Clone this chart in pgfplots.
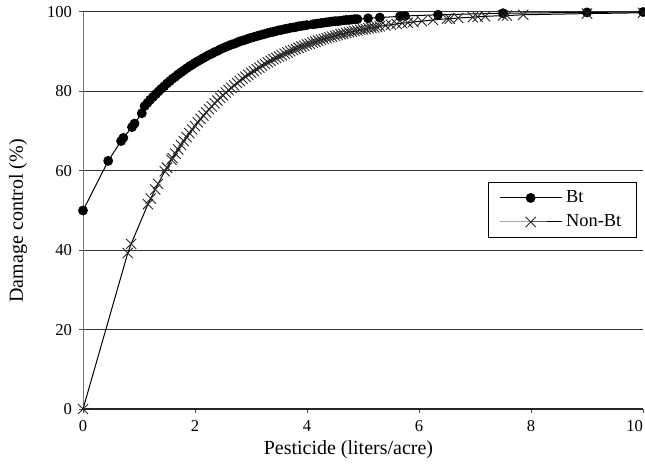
\documentclass[border=0pt]{standalone}
\usepackage{fontspec}
\setmainfont{Liberation Serif}
\usepackage{pgfplots}
\pgfplotsset{compat=1.18}

\pgfplotstableread{
x y
0 50.0
0.45 62.5
0.68 67.5
0.72 68.3
0.875 71.0
0.92 71.9
1.05 74.5
1.10 76.3
1.15 77.1
1.20 77.9
1.25 78.6
1.30 79.3
1.35 80.0
1.40 80.7
1.45 81.3
1.50 82.0
1.55 82.6
1.60 83.2
1.65 83.7
1.70 84.3
1.75 84.8
1.80 85.3
1.85 85.8
1.90 86.3
1.95 86.7
2.00 87.2
2.05 87.6
2.10 88.0
2.15 88.4
2.20 88.8
2.25 89.2
2.30 89.5
2.35 89.9
2.40 90.2
2.45 90.6
2.50 90.9
2.55 91.2
2.60 91.5
2.65 91.8
2.70 92.0
2.75 92.3
2.80 92.6
2.85 92.8
2.90 93.0
2.95 93.3
3.00 93.5
3.05 93.7
3.10 93.9
3.15 94.1
3.20 94.3
3.25 94.5
3.30 94.7
3.35 94.9
3.40 95.0
3.45 95.2
3.50 95.4
3.55 95.5
3.60 95.7
3.65 95.8
3.70 96.0
3.75 96.1
3.80 96.2
3.85 96.4
3.90 96.5
3.95 96.6
4.00 96.7
4.10 96.9
4.15 97.0
4.20 97.1
4.25 97.2
4.30 97.3
4.35 97.4
4.40 97.5
4.45 97.6
4.50 97.7
4.55 97.7
4.60 97.8
4.65 97.9
4.70 98.0
4.75 98.0
4.80 98.1
4.85 98.2
4.90 98.2
5.09 98.4
5.30 98.6
5.66 98.9
5.75 99.0
6.34 99.3
7.50 99.7
9.00 99.9
10.0 100
}\bt

\pgfplotstableread{
x y
0 0
0.80 39.3
0.86 41.6
1.16 51.6
1.21 53.0
1.29 55.3
1.34 56.7
1.46 59.9
1.50 60.8
1.58 62.8
1.60 63.2
1.65 64.3
1.70 65.4
1.75 66.5
1.80 67.5
1.85 68.5
1.90 69.5
1.95 70.4
2.00 71.3
2.05 72.2
2.10 73.1
2.15 73.9
2.20 74.7
2.25 75.5
2.30 76.2
2.35 77.0
2.40 77.7
2.45 78.4
2.50 79.0
2.55 79.7
2.60 80.3
2.65 80.9
2.70 81.5
2.75 82.1
2.80 82.6
2.85 83.2
2.90 83.7
2.95 84.2
3.00 84.7
3.05 85.1
3.10 85.6
3.15 86.0
3.20 86.5
3.25 86.9
3.30 87.3
3.35 87.7
3.40 88.1
3.45 88.4
3.50 88.8
3.55 89.1
3.60 89.5
3.65 89.8
3.70 90.1
3.75 90.4
3.80 90.7
3.85 91.0
3.90 91.3
3.95 91.5
4.00 91.8
4.05 92.0
4.10 92.3
4.15 92.5
4.20 92.8
4.25 93.0
4.30 93.2
4.35 93.4
4.40 93.6
4.45 93.8
4.50 94.0
4.55 94.2
4.60 94.4
4.65 94.5
4.70 94.7
4.75 94.9
4.80 95.0
4.85 95.2
4.90 95.3
4.95 95.5
5.00 95.6
5.05 95.7
5.10 95.9
5.15 96.0
5.20 96.1
5.25 96.2
5.30 96.4
5.40 96.6
5.50 96.8
5.60 97.0
5.70 97.2
5.80 97.3
5.90 97.5
6.05 97.7
6.25 98.0
6.50 98.3
6.55 98.3
6.70 98.5
6.96 98.7
7.05 98.8
7.18 98.9
7.50 99.1
7.57 99.1
7.86 99.3
9.00 99.6
10.0 99.8
}\nonbt

\begin{document}
\begin{tikzpicture}
\begin{axis}[
  name=a,
  scale only axis, width=280pt, height=198.5pt,
  xmin=0, xmax=10, ymin=0, ymax=100,
  xtick={0,2,...,8}, ytick={0,20,...,100},
  extra x ticks={10},
  extra x tick style={tick label style={anchor=north east, xshift=3.5pt}},
  axis x line*=bottom, axis y line*=left,
  x axis line style={line width=1.1pt, black!85},
  y axis line style={line width=0.5pt, black!55},
  ymajorgrids, grid style={black!80, line width=0.5pt},
  tick align=outside, major tick length=2pt,
  tick style={black!70, line width=0.5pt},
  clip=false,
  /pgf/number format/assume math mode=true,
  tick label style={font=\fontsize{8.3}{10}\selectfont},
  label style={font=\fontsize{10}{12}\selectfont},
  xlabel={Pesticide (liters/acre)},
  ylabel={Damage control (\%)},
  xlabel style={at={(axis description cs:0.474,-0.1134)}, anchor=base},
  ylabel style={at={(axis description cs:-0.116,0.474)}, anchor=center},
  legend style={at={(axis description cs:0.989,0.572)}, anchor=north east,
    draw=black, line width=0.5pt, font=\fontsize{9.2}{11}\selectfont,
    inner xsep=5.5pt, inner ysep=2pt, row sep=0.5pt},
  legend cell align=left,
  legend image code/.code={\draw[mark repeat=2, mark phase=2, #1] plot coordinates {(0pt,0pt) (15.5pt,0pt) (31pt,0pt)};},
]
\addplot[black, line width=0.5pt, mark=*, mark size=2.2pt, mark options={fill=black}] table {\bt};
\addlegendentry{Bt}
\addplot[black, line width=0.5pt, mark=x, mark size=3.6pt, mark options={line width=0.45pt, black!85}] table {\nonbt};
\addlegendentry{Non-Bt}
\end{axis}
\pgfresetboundingbox
\path ([shift={(-41.5pt,-29pt)}]a.south west) rectangle ([shift={(1pt,6pt)}]a.north east);
\end{tikzpicture}
\end{document}
